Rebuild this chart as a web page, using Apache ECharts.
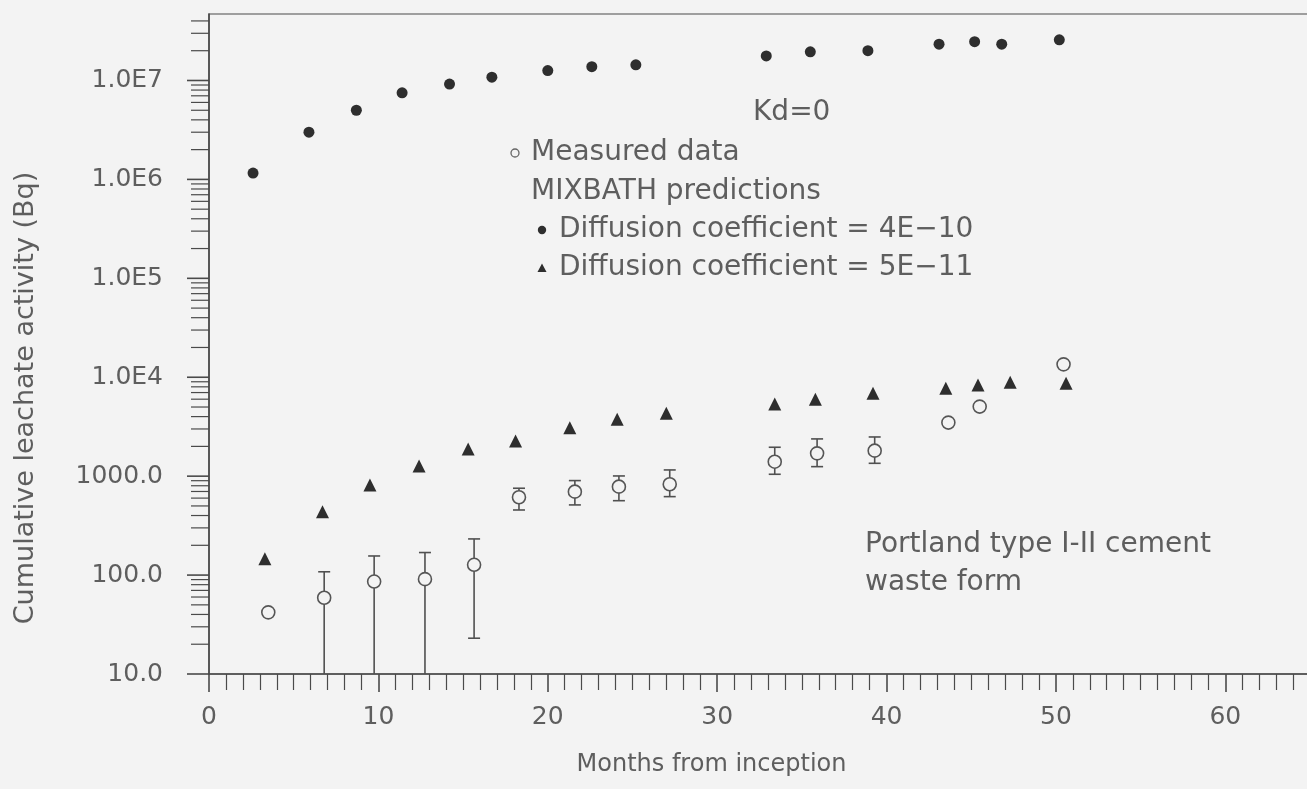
<!DOCTYPE html>
<html>
<head>
<meta charset="utf-8">
<script src="https://cdn.jsdelivr.net/npm/echarts@6/dist/echarts.min.js"></script>
<style>
  html, body { margin: 0; padding: 0; background: #f3f3f3; }
  #chart { width: 1307px; height: 789px; }
</style>
</head>
<body>
<div id="chart"></div>
<script>
// Decade labels of the activity axis, from 10 Bq up to 1E7 Bq
const yTickLabels = ['10.0', '100.0', '1000.0', '1.0E4', '1.0E5', '1.0E6', '1.0E7'];

// MIXBATH prediction, diffusion coefficient 4E-10
const fastMonths = [2.6, 5.9, 8.7, 11.4, 14.2, 16.7, 20.0, 22.6, 25.2, 32.9, 35.5, 38.9, 43.1, 45.2, 46.8, 50.2];
const fastValues = [1.16e6, 3.0e6, 5.0e6, 7.5e6, 9.2e6, 1.08e7, 1.26e7, 1.38e7, 1.44e7, 1.77e7, 1.95e7, 2.0e7, 2.33e7, 2.47e7, 2.33e7, 2.58e7];

// MIXBATH prediction, diffusion coefficient 5E-11
const slowMonths = [3.3, 6.7, 9.5, 12.4, 15.3, 18.1, 21.3, 24.1, 27.0, 33.4, 35.8, 39.2, 43.5, 45.4, 47.3, 50.6];
const slowValues = [146, 437, 815, 1270, 1880, 2270, 3090, 3760, 4320, 5370, 6000, 6890, 7740, 8360, 8890, 8690];

// Measured cumulative leachate activity with its error range
// (lower bound 0 = range reaches below the axis minimum)
const measuredMonths = [3.5, 6.8, 9.75, 12.75, 15.65, 18.3, 21.6, 24.2, 27.2, 33.4, 35.9, 39.3, 43.65, 45.5, 50.45];
const measuredValues = [42, 59, 86, 91, 127, 612, 697, 783, 828, 1400, 1700, 1810, 3480, 5050, 13500];
const measuredUpper  = [null, 108, 156, 169, 232, 755, 902, 1005, 1156, 1960, 2380, 2490, null, null, null];
const measuredLower  = [null, 0, 0, 0, 23, 455, 512, 565, 621, 1045, 1248, 1349, null, null, null];

const X_MAX = 65;
const Y_MIN = 10;
const Y_MAX = 4.7e7;

const FONT = '"DejaVu Sans", "Liberation Sans", sans-serif';
const TEXT = '#5e5e5e';
const AXIS = '#4a4a4a';
const MARK = '#2e2e2e';
const BG = '#f3f3f3';

const fastData = fastMonths.map((m, i) => [m, fastValues[i]]);
const slowData = slowMonths.map((m, i) => [m, slowValues[i]]);
const measuredData = measuredMonths.map((m, i) => [m, measuredValues[i]]);
const errorData = [];
measuredMonths.forEach((m, i) => {
  if (measuredUpper[i] != null) errorData.push([m, measuredUpper[i], measuredLower[i]]);
});

// log-axis ticks: every 1..9 x 10^e inside the axis range
const logTickData = [];
for (let e = 1; e <= 7; e++) {
  for (let k = 1; k <= 9; k++) {
    const v = k * Math.pow(10, e);
    if (v >= Y_MIN && v <= Y_MAX) logTickData.push([0, v, k === 1 ? 1 : 0]);
  }
}

function renderLogTick(params, api) {
  const p = api.coord([api.value(0), api.value(1)]);
  const major = api.value(2) === 1;
  const len = major ? 22 : 18;
  return {
    type: 'line',
    shape: { x1: p[0] - len, y1: p[1], x2: p[0], y2: p[1] },
    style: { stroke: AXIS, lineWidth: major ? 1.6 : 1.2 }
  };
}

function renderErrorBar(params, api) {
  const cs = params.coordSys;
  const month = api.value(0);
  const hi = api.value(1);
  const lo = api.value(2);
  const top = api.coord([month, hi]);
  const x = top[0];
  const yBottom = lo > 0 ? api.coord([month, lo])[1] : cs.y + cs.height;
  const half = 6;
  const style = { stroke: '#505050', lineWidth: 1.6 };
  const children = [
    { type: 'line', shape: { x1: x, y1: top[1], x2: x, y2: yBottom }, style },
    { type: 'line', shape: { x1: x - half, y1: top[1], x2: x + half, y2: top[1] }, style }
  ];
  if (lo > 0) {
    children.push({ type: 'line', shape: { x1: x - half, y1: yBottom, x2: x + half, y2: yBottom }, style });
  }
  return { type: 'group', children };
}

const chart = echarts.init(document.getElementById('chart'), null, { renderer: 'canvas' });

const legendFont = '28px ' + FONT;

chart.setOption({
  backgroundColor: BG,
  animation: false,
  grid: {
    left: 209, top: 14, right: -3, bottom: 115,
    containLabel: false,
    outerBoundsMode: 'none',
    show: true,
    borderColor: AXIS,
    borderWidth: 1.2,
    backgroundColor: 'transparent'
  },
  xAxis: {
    type: 'value',
    min: 0,
    max: X_MAX,
    interval: 10,
    name: 'Months from inception',
    nameLocation: 'middle',
    nameGap: 79,
    nameTextStyle: { fontFamily: FONT, fontSize: 24, color: TEXT, padding: [0, 96, 0, 0] },
    axisLine: { show: true, onZero: false, lineStyle: { color: AXIS, width: 1.6 } },
    axisTick: { show: true, inside: false, length: 18, lineStyle: { color: AXIS, width: 1.6 } },
    minorTick: { show: true, splitNumber: 10, length: 16, lineStyle: { color: AXIS, width: 1.2 } },
    axisLabel: {
      margin: 31,
      fontFamily: FONT,
      fontSize: 25,
      color: TEXT,
      formatter: v => (v % 10 === 0 ? String(v) : '')
    },
    splitLine: { show: false },
    minorSplitLine: { show: false }
  },
  yAxis: {
    type: 'log',
    logBase: 10,
    min: Y_MIN,
    max: Y_MAX,
    name: 'Cumulative leachate activity (Bq)',
    nameLocation: 'middle',
    nameGap: 170,
    nameTextStyle: { fontFamily: FONT, fontSize: 27, color: TEXT, padding: [0, 108, 0, 0] },
    axisLine: { show: true, onZero: false, lineStyle: { color: AXIS, width: 1.6 } },
    axisTick: { show: false },
    minorTick: { show: false },
    axisLabel: {
      margin: 46,
      fontFamily: FONT,
      fontSize: 25,
      color: TEXT,
      showMaxLabel: false,
      formatter: v => {
        const l = Math.log10(v);
        const e = Math.round(l);
        if (Math.abs(l - e) > 1e-6) return '';
        return yTickLabels[e - 1] || '';
      }
    },
    splitLine: { show: false }
  },
  graphic: [
    { type: 'text', x: 753, y: 113, style: { text: 'Kd=0', font: legendFont, fill: TEXT, verticalAlign: 'middle' } },
    { type: 'circle', shape: { cx: 515, cy: 153, r: 4 }, style: { fill: BG, stroke: '#666', lineWidth: 1.3 } },
    { type: 'text', x: 531, y: 153, style: { text: 'Measured data', font: legendFont, fill: TEXT, verticalAlign: 'middle' } },
    { type: 'text', x: 531, y: 192, style: { text: 'MIXBATH predictions', font: legendFont, fill: TEXT, verticalAlign: 'middle' } },
    { type: 'circle', shape: { cx: 542, cy: 230, r: 4.2 }, style: { fill: MARK } },
    { type: 'text', x: 559, y: 230, style: { text: 'Diffusion coefficient = 4E\u221210', font: legendFont, fill: TEXT, verticalAlign: 'middle' } },
    { type: 'polygon', shape: { points: [[537.5, 272], [546.5, 272], [542, 263.5]] }, style: { fill: MARK } },
    { type: 'text', x: 559, y: 268, style: { text: 'Diffusion coefficient = 5E\u221211', font: legendFont, fill: TEXT, verticalAlign: 'middle' } },
    { type: 'text', x: 865, y: 545, style: { text: 'Portland type I-II cement', font: legendFont, fill: TEXT, verticalAlign: 'middle' } },
    { type: 'text', x: 865, y: 583, style: { text: 'waste form', font: legendFont, fill: TEXT, verticalAlign: 'middle' } }
  ],
  series: [
    {
      name: 'log ticks',
      type: 'custom',
      renderItem: renderLogTick,
      data: logTickData,
      encode: { x: 0, y: 1 },
      clip: false,
      silent: true,
      z: 3
    },
    {
      name: 'Measured range',
      type: 'custom',
      renderItem: renderErrorBar,
      data: errorData,
      encode: { x: 0, y: 1 },
      clip: true,
      silent: true,
      z: 4
    },
    {
      name: 'Measured data',
      type: 'scatter',
      data: measuredData,
      symbol: 'circle',
      symbolSize: 13,
      itemStyle: { color: BG, borderColor: '#555', borderWidth: 1.6, opacity: 1 },
      z: 5
    },
    {
      name: 'Diffusion coefficient = 4E-10',
      type: 'scatter',
      data: fastData,
      symbol: 'circle',
      symbolSize: 11,
      itemStyle: { color: MARK, opacity: 1 },
      z: 5
    },
    {
      name: 'Diffusion coefficient = 5E-11',
      type: 'scatter',
      data: slowData,
      symbol: 'triangle',
      symbolSize: 13,
      itemStyle: { color: MARK, opacity: 1 },
      z: 5
    }
  ]
});
</script>
</body>
</html>
